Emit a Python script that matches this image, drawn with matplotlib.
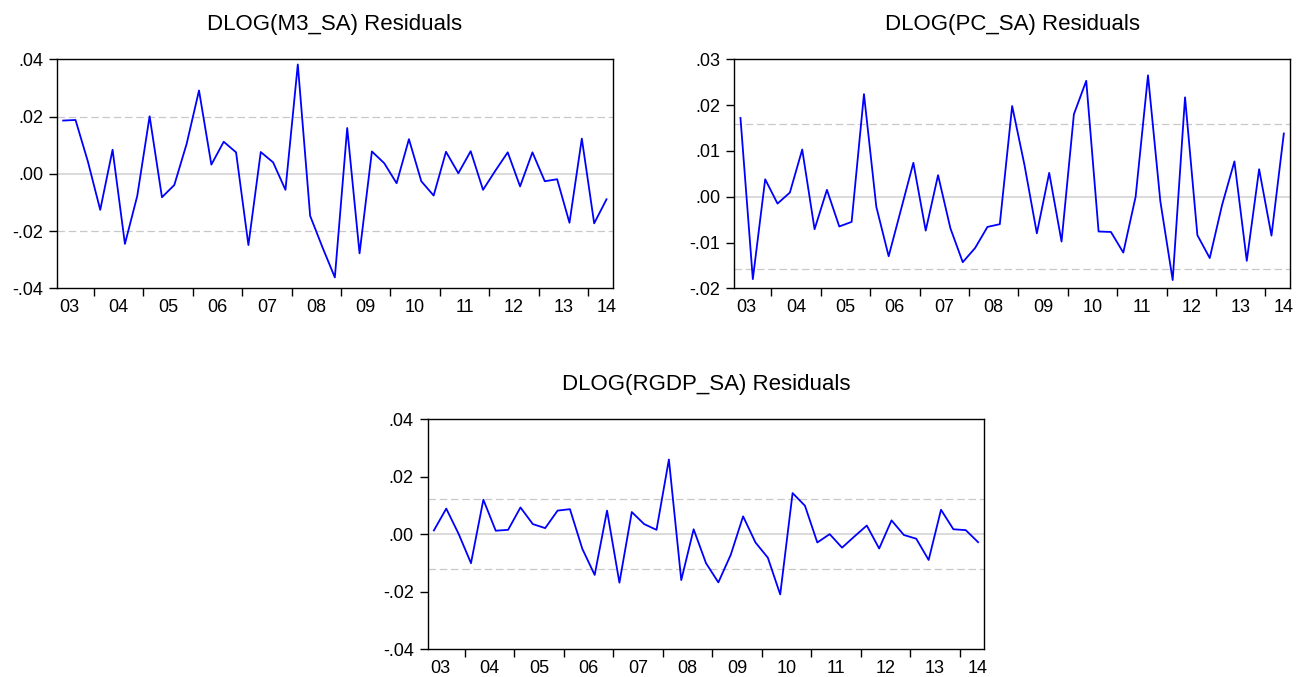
import numpy as np
import matplotlib
matplotlib.use("Agg")
import matplotlib.pyplot as plt

# Quarterly residuals, 2003Q2 - 2014Q2
start_year, start_q = 2003, 2
years = list(range(2003, 2015))

m3_resid = [0.0186, 0.0188, 0.0043, -0.0126, 0.0084, -0.0245, -0.0077, 0.0201, -0.0082, -0.0039,
            0.0105, 0.0291, 0.0032, 0.0112, 0.0075, -0.0249, 0.0076, 0.0040, -0.0056, 0.0382,
            -0.0147, -0.0257, -0.0362, 0.0160, -0.0278, 0.0078, 0.0037, -0.0033, 0.0121, -0.0026,
            -0.0076, 0.0077, 0.0002, 0.0079, -0.0056, 0.0011, 0.0075, -0.0044, 0.0075, -0.0026,
            -0.0019, -0.0171, 0.0123, -0.0173, -0.0089]

pc_resid = [0.0172, -0.0180, 0.0038, -0.0015, 0.0009, 0.0103, -0.0071, 0.0015, -0.0065, -0.0055,
            0.0224, -0.0022, -0.0130, -0.0028, 0.0074, -0.0074, 0.0047, -0.0069, -0.0143, -0.0112,
            -0.0066, -0.0060, 0.0198, 0.0069, -0.0080, 0.0052, -0.0098, 0.0180, 0.0253, -0.0076,
            -0.0077, -0.0122, 0.0000, 0.0265, -0.0010, -0.0182, 0.0217, -0.0084, -0.0134, -0.0018,
            0.0077, -0.0140, 0.0060, -0.0085, 0.0138]

rgdp_resid = [0.0013, 0.0089, 0.0001, -0.0101, 0.0120, 0.0012, 0.0015, 0.0093, 0.0035, 0.0021,
              0.0082, 0.0087, -0.0051, -0.0142, 0.0082, -0.0169, 0.0077, 0.0035, 0.0015, 0.0260,
              -0.0160, 0.0017, -0.0101, -0.0168, -0.0072, 0.0062, -0.0029, -0.0082, -0.0210, 0.0143,
              0.0099, -0.0029, 0.0000, -0.0047, -0.0008, 0.0030, -0.0050, 0.0048, -0.0003, -0.0016,
              -0.0090, 0.0085, 0.0017, 0.0014, -0.0028]

titles = ["DLOG(M3_SA) Residuals", "DLOG(PC_SA) Residuals", "DLOG(RGDP_SA) Residuals"]
band_levels = [0.020, 0.0158, 0.0122]          # dashed +/- band per series
y_limits = [(-0.04, 0.04), (-0.02, 0.03), (-0.04, 0.04)]
y_ticks = [[-0.04, -0.02, 0.00, 0.02, 0.04],
           [-0.02, -0.01, 0.00, 0.01, 0.02, 0.03],
           [-0.04, -0.02, 0.00, 0.02, 0.04]]

plt.rcParams.update({
    "font.family": ["Liberation Sans", "DejaVu Sans"],
    "axes.linewidth": 1.0,
})

W, H = 1301, 677
fig = plt.figure(figsize=(W / 100, H / 100), dpi=100)

# axes boxes in pixels: left, top, right, bottom
boxes = [(57, 59.3, 612.7, 288.3),
         (734.3, 59.3, 1290, 288.3),
         (427.7, 419.3, 984.3, 649)]


def tick_label(v):
    s = f"{v:.2f}"
    return s.replace("0.", ".")


def draw_panel(box, series, title, band, ylim, yticks):
    l, t, r, b = box
    ax = fig.add_axes([l / W, 1 - b / H, (r - l) / W, (b - t) / H])
    n = len(series)
    x = np.arange(n)
    ax.axhline(0, color="#d4d4d4", lw=1.2, zorder=1)
    for lvl in (band, -band):
        ax.axhline(lvl, color="#c8c8c8", lw=0.9, ls=(0, (6, 3)), zorder=1)
    ax.plot(x, series, color="#0000ff", lw=1.3, zorder=3)
    ax.set_xlim(-0.5, n - 0.5)
    ax.set_ylim(*ylim)

    # year boundaries get tick marks, year labels sit between them
    q1_idx = [4 * (y - start_year) - (start_q - 1) for y in years]
    bounds = [i - 0.5 for i in q1_idx if 0 < i < n]
    centers = [min(max(i + 1.5, 0.4), n - 1.0) for i in q1_idx]
    ax.set_xticks(bounds, [""] * len(bounds))
    ax.set_xticks(centers, [f"{y % 100:02d}" for y in years], minor=True)
    ax.tick_params(axis="x", which="major", length=5.5, width=1.0, direction="out")
    ax.tick_params(axis="x", which="minor", length=0, pad=8, labelsize=13)

    ax.set_yticks(yticks, [tick_label(v) for v in yticks])
    ax.tick_params(axis="y", length=6, width=1.0, pad=4, labelsize=13)
    ax.set_title(title, fontsize=16, pad=21)
    return ax


for box, s, ttl, band, yl, yt in zip(boxes, [m3_resid, pc_resid, rgdp_resid], titles,
                                      band_levels, y_limits, y_ticks):
    draw_panel(box, s, ttl, band, yl, yt)

fig.savefig("out.png", dpi=100)
